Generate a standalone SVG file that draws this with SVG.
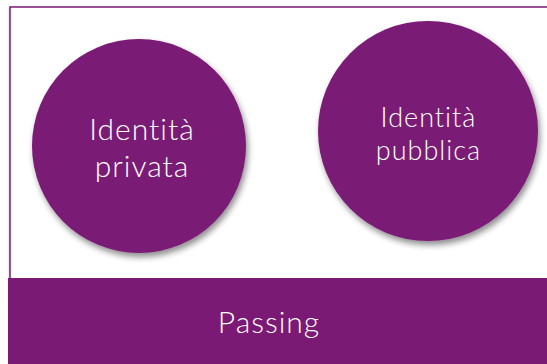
<svg xmlns="http://www.w3.org/2000/svg" width="547" height="364" viewBox="0 0 547 364">
<defs>
<filter id="sh" x="-20%" y="-20%" width="150%" height="150%">
<feGaussianBlur in="SourceAlpha" stdDeviation="3"/>
<feOffset dx="2" dy="4" result="b"/>
<feComponentTransfer><feFuncA type="linear" slope="0.45"/></feComponentTransfer>
<feMerge><feMergeNode/><feMergeNode in="SourceGraphic"/></feMerge>
</filter>
<filter id="fs" x="-5%" y="-5%" width="110%" height="110%">
<feGaussianBlur in="SourceAlpha" stdDeviation="1.2"/>
<feOffset dx="0" dy="1"/>
<feComponentTransfer><feFuncA type="linear" slope="0.3"/></feComponentTransfer>
<feMerge><feMergeNode/><feMergeNode in="SourceGraphic"/></feMerge>
</filter>
</defs>
<style>
.node{fill:#7a1a74}
.t{fill:#ffffff;font-family:Lato,"Open Sans","Liberation Sans",sans-serif;font-weight:300;text-anchor:middle;font-variant-ligatures:none;letter-spacing:1px}
</style>
<rect width="547" height="364" fill="#ffffff"/>
<g id="frame" filter="url(#fs)">
<rect x="10" y="7" width="560" height="300" fill="#ffffff" stroke="#7a1a74" stroke-width="1.5"/>
</g>
<g id="passing">
<rect class="node" x="8" y="278" width="545" height="90"/>
<text class="t" x="269" y="333" font-size="30">Passing</text>
</g>
<g id="privata">
<circle class="node" cx="139" cy="146" r="107" filter="url(#sh)"/>
<text class="t" x="142" y="140" font-size="30">Identità</text>
<text class="t" x="142" y="177" font-size="30">privata</text>
</g>
<g id="pubblica">
<circle class="node" cx="428" cy="131" r="110" filter="url(#sh)"/>
<text class="t" x="428.5" y="127" font-size="27">Identità</text>
<text class="t" x="428.5" y="160" font-size="27">pubblica</text>
</g>
<g id="connectors"/>
</svg>
